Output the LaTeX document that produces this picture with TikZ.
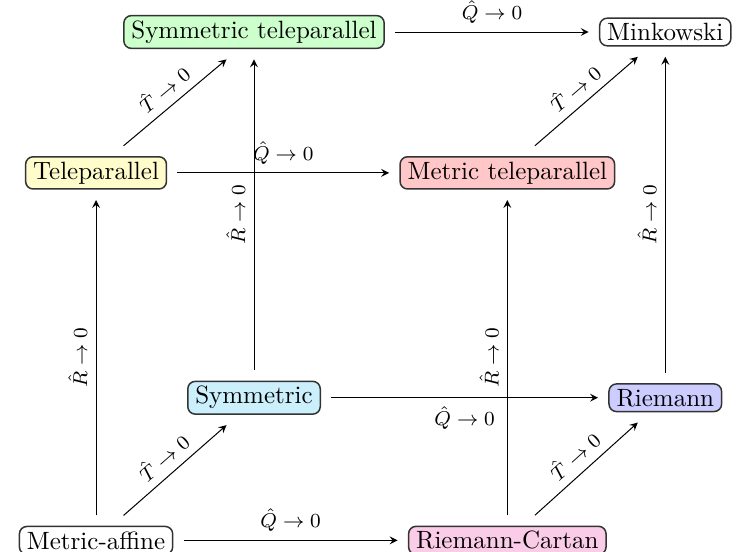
\documentclass[tikz,border=0pt]{standalone}
\usepackage{tikz}
\usetikzlibrary{arrows}

\tikzset{
  geom/.style={draw=black!80, semithick, rounded corners=3pt, inner xsep=3pt, inner ysep=2pt, outer sep=4.4pt},
  lim/.style={font=\footnotesize}
}

\begin{document}
\begin{tikzpicture}[>=stealth]
  \useasboundingbox (0,0) rectangle (10.40,7.75);

  % Front face
  \node[geom] (metaff) at (1.35,0.155) {Metric-affine};
  \node[geom, fill=magenta!20] (rc) at (7.13,0.155) {Riemann-Cartan};
  \node[geom, fill=yellow!20] (tele) at (1.35,5.32) {Teleparallel};
  \node[geom, fill=red!22] (mtele) at (7.13,5.32) {Metric teleparallel};

  % Back face
  \node[geom, fill=cyan!20] (sym) at (3.57,2.16) {Symmetric};
  \node[geom, fill=blue!20] (riem) at (9.35,2.16) {Riemann};
  \node[geom, fill=green!20] (stele) at (3.57,7.30) {Symmetric teleparallel};
  \node[geom] (mink) at (9.35,7.30) {Minkowski};

  % Q -> 0
  \draw[->] (metaff) -- (rc) node[lim, midway, above] {$\hat{Q}\to 0$};
  \draw[->] (tele) -- (mtele) node[lim, midway, above] {$\hat{Q}\to 0$};
  \draw[->] (sym) -- (riem) node[lim, midway, below] {$\hat{Q}\to 0$};
  \draw[->] (stele) -- (mink) node[lim, midway, above] {$\hat{Q}\to 0$};

  % R -> 0
  \draw[->] (metaff) -- (tele) node[lim, midway, sloped, above] {$\hat{R}\to 0$};
  \draw[->] (rc) -- (mtele) node[lim, midway, sloped, above] {$\hat{R}\to 0$};
  \draw[->] (sym) -- (stele) node[lim, midway, sloped, above] {$\hat{R}\to 0$};
  \draw[->] (riem) -- (mink) node[lim, midway, sloped, above] {$\hat{R}\to 0$};

  % T -> 0
  \draw[->] ([xshift=11pt]metaff.north) -- ([xshift=-11pt]sym.south) node[lim, midway, sloped, above] {$\hat{T}\to 0$};
  \draw[->] ([xshift=11pt]rc.north) -- ([xshift=-11pt]riem.south) node[lim, midway, sloped, above] {$\hat{T}\to 0$};
  \draw[->] ([xshift=11pt]tele.north) -- ([xshift=-11pt]stele.south) node[lim, midway, sloped, above] {$\hat{T}\to 0$};
  \draw[->] ([xshift=11pt]mtele.north) -- ([xshift=-11pt]mink.south) node[lim, midway, sloped, above] {$\hat{T}\to 0$};
\end{tikzpicture}
\end{document}
